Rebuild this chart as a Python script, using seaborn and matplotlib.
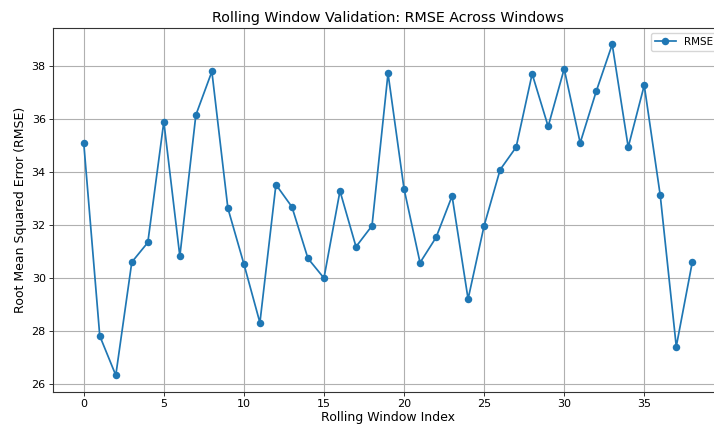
import matplotlib
matplotlib.use("Agg")
import matplotlib.pyplot as plt
import seaborn as sns
import pandas as pd

# RMSE for each rolling validation window
window_index = list(range(39))
rmse = [35.08, 27.82, 26.34, 30.60, 31.34, 35.89, 30.82, 36.14, 37.78, 32.63,
        30.53, 28.32, 33.52, 32.68, 30.74, 30.00, 33.28, 31.18, 31.97, 37.71,
        33.36, 30.58, 31.53, 33.09, 29.21, 31.97, 34.08, 34.93, 37.69, 35.71,
        37.88, 35.09, 37.03, 38.80, 34.93, 37.26, 33.11, 27.42, 30.60]

df = pd.DataFrame({"Window": window_index, "RMSE": rmse})

plt.rcParams["font.family"] = ["DejaVu Sans"]

fig = plt.figure(figsize=(7.14, 4.26), dpi=100)
ax = fig.add_axes([0.0747, 0.0805, 0.9375, 0.8545])

sns.lineplot(data=df, x="Window", y="RMSE", marker="o", color="#1f77b4",
             linewidth=1.25, markersize=5.4, markeredgewidth=0,
             label="RMSE", ax=ax)

ax.set_xlim(-1.9, 39.9)
ax.set_ylim(25.72, 39.43)
ax.set_xticks([0, 5, 10, 15, 20, 25, 30, 35])
ax.set_yticks([26, 28, 30, 32, 34, 36, 38])
ax.grid(True, color="#b0b0b0", linewidth=0.8)
ax.tick_params(labelsize=8, length=3, width=0.7, color="#333333", pad=2.5)
for s in ax.spines.values():
    s.set_color("#333333")
    s.set_linewidth(0.8)

ax.set_title("Rolling Window Validation: RMSE Across Windows", fontsize=10.3, pad=4)
ax.set_xlabel("Rolling Window Index", fontsize=9, labelpad=1.5)
ax.set_ylabel("Root Mean Squared Error (RMSE)", fontsize=9, labelpad=3)
ax.legend(loc="upper right", fontsize=7.5, frameon=True)

fig.savefig("out.png", dpi=100)
